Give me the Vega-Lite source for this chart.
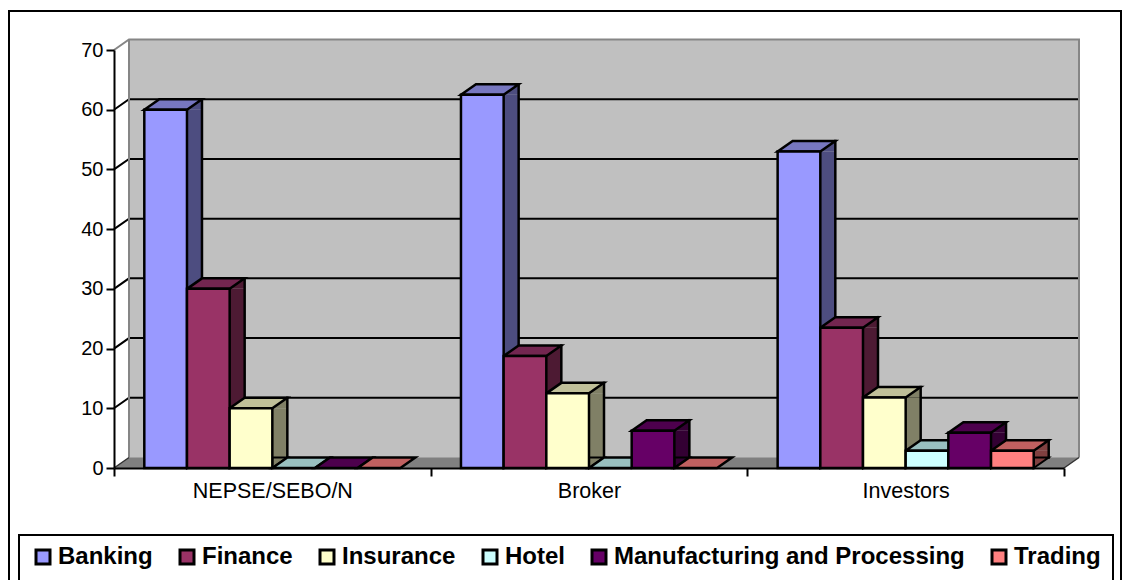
{
"$schema":"https://vega.github.io/schema/vega-lite/v6.json",
"width":1112,"height":570,
"autosize":{"type":"none"},
"padding":{"left":9,"top":11,"right":10,"bottom":0},
"background":"white",
"config":{"view":{"stroke":"#000000","strokeWidth":2,"fill":"white"},"font":"Liberation Sans","legend":{"strokeWidth":2}},
"datasets":{
"bars":[
{"group":"NEPSE/SEBO/N","series":"Banking","value":60},
{"group":"NEPSE/SEBO/N","series":"Finance","value":30},
{"group":"NEPSE/SEBO/N","series":"Insurance","value":10},
{"group":"NEPSE/SEBO/N","series":"Hotel","value":0},
{"group":"NEPSE/SEBO/N","series":"Manufacturing and Processing","value":0},
{"group":"NEPSE/SEBO/N","series":"Trading","value":0},
{"group":"Broker","series":"Banking","value":62.5},
{"group":"Broker","series":"Finance","value":18.75},
{"group":"Broker","series":"Insurance","value":12.5},
{"group":"Broker","series":"Hotel","value":0},
{"group":"Broker","series":"Manufacturing and Processing","value":6.25},
{"group":"Broker","series":"Trading","value":0},
{"group":"Investors","series":"Banking","value":53},
{"group":"Investors","series":"Finance","value":23.5},
{"group":"Investors","series":"Insurance","value":11.8},
{"group":"Investors","series":"Hotel","value":2.9},
{"group":"Investors","series":"Manufacturing and Processing","value":5.9},
{"group":"Investors","series":"Trading","value":2.9}
],
"ticks":[{"tick":10},{"tick":20},{"tick":30},{"tick":40},{"tick":50},{"tick":60}],
"anchor":[{"tick":0}]
},
"data":{"name":"bars"},
"encoding":{
"x":{"field":"group","type":"nominal","sort":["NEPSE/SEBO/N","Broker","Investors"],
 "scale":{"range":[105,1055],"paddingInner":0,"paddingOuter":0},
 "axis":{"title":null,"labelAngle":0,"labelFontSize":21.5,"labelColor":"#000000","labelPadding":4,"domainColor":"#000000","domainWidth":2,"tickColor":"#000000","tickWidth":2,"tickSize":8,"tickBand":"extent","offset":-113,"zindex":1}},
"y":{"field":"value","type":"quantitative","scale":{"domain":[0,70],"range":[457,39],"nice":false},
 "axis":{"title":null,"values":[0,10,20,30,40,50,60,70],"labelFontSize":20,"labelColor":"#000000","labelPadding":3,"domainColor":"#000000","domainWidth":2,"tickColor":"#000000","tickWidth":2,"tickSize":8,"grid":false,"offset":-105,"zindex":1}},
"xOffset":{"field":"series","type":"nominal","sort":["Banking","Finance","Insurance","Hotel","Manufacturing and Processing","Trading"],"scale":{"type":"band","range":[0,316.67],"paddingInner":0,"paddingOuter":0.71}}
},
"resolve":{"scale":{"fill":"independent","stroke":"independent","xOffset":"independent"}},
"layer":[
{"data":{"name":"anchor"},
 "mark":{"type":"point","filled":true,"size":4,"opacity":1,"fill":"#C0C0C0","stroke":null,
 "shape":"M0,0 L15,-10.5 L15,-428.5 L965,-428.5 L965,-10.5 L950,0 Z"},
 "encoding":{"x":{"datum":"NEPSE/SEBO/N","bandPosition":0},"y":{"field":"tick","type":"quantitative"},"xOffset":{"value":0}}},
{"data":{"name":"anchor"},
 "mark":{"type":"point","filled":true,"size":4,"opacity":1,"fill":"#808080","stroke":null,
 "shape":"M0,0 L15,-10.5 L965,-10.5 L950,0 Z"},
 "encoding":{"x":{"datum":"NEPSE/SEBO/N","bandPosition":0},"y":{"field":"tick","type":"quantitative"},"xOffset":{"value":0}}},
{"data":{"name":"ticks"},
 "mark":{"type":"point","filled":false,"size":4,"opacity":1,"stroke":"#000000","strokeWidth":2,
 "shape":"M0,0 L15,-10.5 L965,-10.5"},
 "encoding":{"x":{"datum":"NEPSE/SEBO/N","bandPosition":0},"y":{"field":"tick","type":"quantitative"},"xOffset":{"value":0}}},
{"data":{"name":"anchor"},
 "mark":{"type":"point","filled":false,"size":4,"opacity":1,"stroke":"#868686","strokeWidth":2,
 "shape":"M0,-418 L15,-428.5 L965,-428.5 L965,-10.5 M15,-428.5 L15,-10.5"},
 "encoding":{"x":{"datum":"NEPSE/SEBO/N","bandPosition":0},"y":{"field":"tick","type":"quantitative"},"xOffset":{"value":0}}},
{"data":{"name":"anchor"},
 "mark":{"type":"point","filled":false,"size":4,"opacity":1,"stroke":"#333333","strokeWidth":1.5,
 "shape":"M0,0 L15,-10.5 M950,0 L965,-10.5"},
 "encoding":{"x":{"datum":"NEPSE/SEBO/N","bandPosition":0},"y":{"field":"tick","type":"quantitative"},"xOffset":{"value":0}}},
{"transform":[{"filter":"datum.value > 0"}],
 "mark":{"type":"rule","strokeWidth":15,"strokeCap":"butt","y2Offset":-10.5},
 "encoding":{"y2":{"datum":0},"xOffset":{"field":"series","type":"nominal","sort":["Banking","Finance","Insurance","Hotel","Manufacturing and Processing","Trading"],"scale":{"type":"band","range":[28.84,345.51],"paddingInner":0,"paddingOuter":0.71}},"stroke":{"field":"series","type":"nominal","legend":null,"scale":{"domain":["Banking","Finance","Insurance","Hotel","Manufacturing and Processing","Trading"],"range":["#4D4D80","#4D1A33","#808066","#668080","#330033","#804040"]}}}},
{"transform":[{"filter":"datum.value > 0"}],
 "mark":{"type":"point","filled":true,"size":4,"opacity":1,"stroke":null,"shape":"M21.34,0 L36.34,-10.5 L36.34,0 Z"},
 "encoding":{"fill":{"field":"series","type":"nominal","legend":null,"scale":{"domain":["Banking","Finance","Insurance","Hotel","Manufacturing and Processing","Trading"],"range":["#4D4D80","#4D1A33","#808066","#668080","#330033","#804040"]}}}},
{"transform":[{"filter":"datum.value > 0"}],
 "mark":{"type":"point","filled":true,"size":4,"opacity":1,"stroke":"#000000","strokeWidth":2,"shape":"M21.34,0 L36.34,-10.5 L21.34,-10.5 Z"},
 "encoding":{"y":{"datum":0},"fill":{"field":"series","type":"nominal","legend":null,"scale":{"domain":["Banking","Finance","Insurance","Hotel","Manufacturing and Processing","Trading"],"range":["#4D4D80","#4D1A33","#808066","#668080","#330033","#804040"]}}}},
{"transform":[{"filter":"datum.value > 0"}],
 "mark":{"type":"rule","stroke":"#000000","strokeWidth":2.5,"strokeCap":"square","yOffset":-10.5,"y2Offset":-10.5},
 "encoding":{"y2":{"datum":0},"xOffset":{"field":"series","type":"nominal","sort":["Banking","Finance","Insurance","Hotel","Manufacturing and Processing","Trading"],"scale":{"type":"band","range":[36.34,353.01],"paddingInner":0,"paddingOuter":0.71}}}},
{"mark":{"type":"point","filled":true,"size":4,"opacity":1,"stroke":"#000000","strokeWidth":2.5,"strokeJoin":"miter","shape":"M-21.34,0 L21.34,0 L36.34,-10.5 L-6.34,-10.5 Z"},
 "encoding":{"fill":{"field":"series","type":"nominal","legend":null,"scale":{"domain":["Banking","Finance","Insurance","Hotel","Manufacturing and Processing","Trading"],"range":["#7777C0","#732650","#C0C099","#99C0C0","#4D004D","#C06060"]}}}},
{"transform":[{"filter":"datum.value > 0"}],
 "mark":{"type":"bar","stroke":"#000000","strokeWidth":2.5,"strokeJoin":"miter"},
 "encoding":{"y2":{"datum":0},"color":{"field":"series","type":"nominal","sort":["Banking","Finance","Insurance","Hotel","Manufacturing and Processing","Trading"],
 "scale":{"domain":["Banking","Finance","Insurance","Hotel","Manufacturing and Processing","Trading"],"range":["#9999FF","#993366","#FFFFCC","#CCFFFF","#660066","#FF8080"]},
 "legend":{"title":null,"orient":"none","legendX":10,"legendY":524,"direction":"horizontal","columns":6,"padding":12,"fillColor":"#FFFFFF","strokeColor":"#000000","symbolType":"square","symbolSize":196,"symbolStrokeColor":"#000000","symbolStrokeWidth":3,"symbolOpacity":1,"labelFontSize":24,"labelFontWeight":"bold","labelColor":"#000000","labelOffset":3,"labelLimit":500,"columnPadding":22,"rowPadding":0,"clipHeight":20,"gridAlign":"each"}}}}
]
}
